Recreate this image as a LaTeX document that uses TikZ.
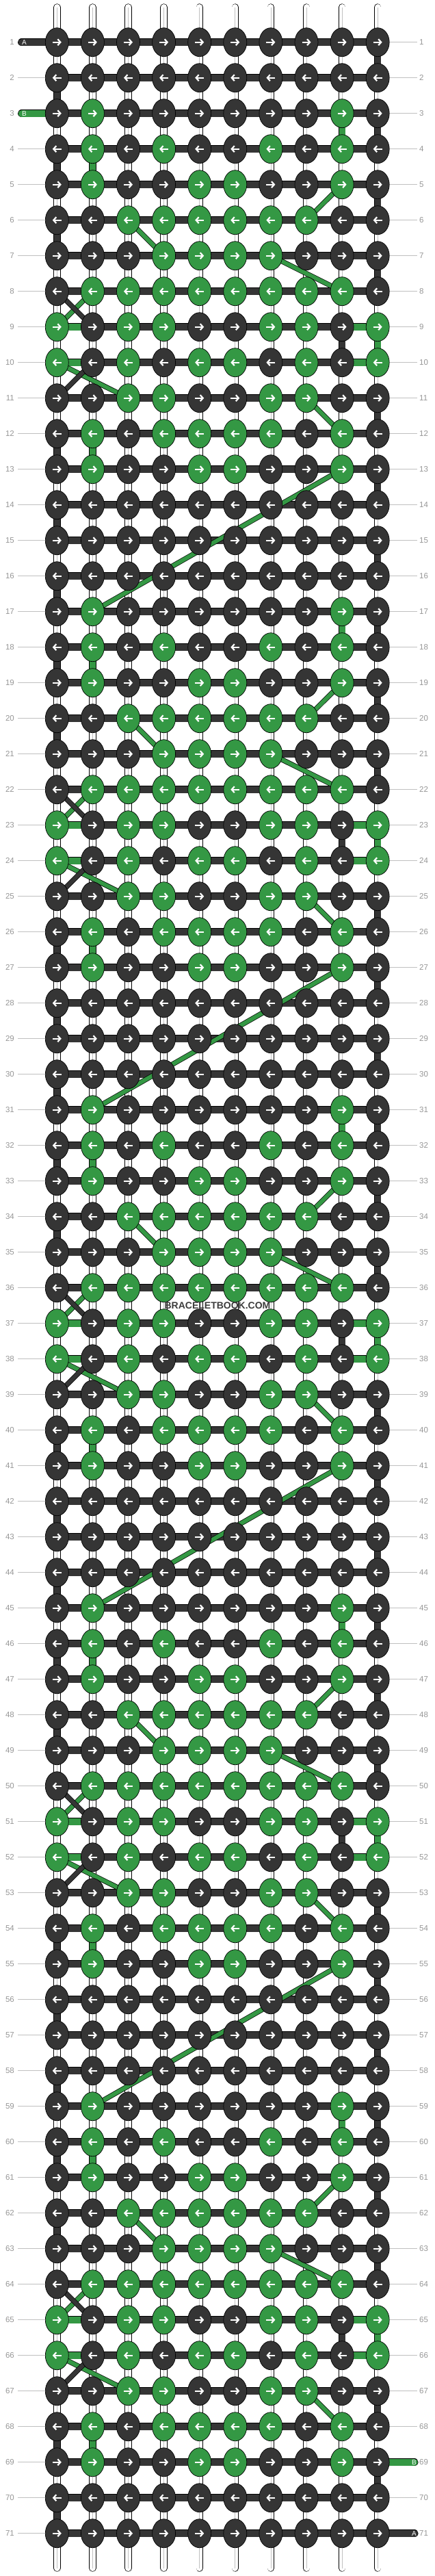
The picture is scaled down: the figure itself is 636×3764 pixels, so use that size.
\documentclass[tikz,border=0pt]{standalone}
\usepackage{fontspec}
\setmainfont{Liberation Sans}
\usepackage{tikz}
\usetikzlibrary{arrows.meta, shapes.geometric, backgrounds}
\definecolor{knotdark}{RGB}{53,53,53}
\definecolor{knotgreen}{RGB}{52,152,68}
\definecolor{labelgray}{RGB}{150,150,150}
\definecolor{rulegray}{RGB}{192,192,192}
\definecolor{markgray}{RGB}{60,60,60}

% 14 rows of 10 knots, repeated down the bracelet (1 = green)
\newcommand{\knotcells}{%
0,0,0,0,0,0,0,0,0,0,%
0,0,0,0,0,0,0,0,0,0,%
0,1,0,0,0,0,0,0,1,0,%
0,1,0,1,0,0,1,0,1,0,%
0,1,0,0,1,1,0,0,1,0,%
0,0,1,1,1,1,1,1,0,0,%
0,0,0,1,1,1,1,0,0,0,%
0,1,1,1,1,1,1,1,1,0,%
1,0,1,1,0,0,1,1,0,1,%
1,0,1,0,1,1,0,1,0,1,%
0,0,1,1,0,0,1,1,0,0,%
0,1,0,1,1,1,1,0,1,0,%
0,1,0,0,1,1,0,0,1,0,%
0,0,0,0,0,0,0,0,0,0}

\begin{document}
\begin{tikzpicture}[x=1pt, y=-1pt,
    knot/.style={ellipse, draw=black, line width=0.7pt, minimum width=34pt, minimum height=42pt, inner sep=0pt},
    arr/.style={white, line width=2.2pt, -{Straight Barb[length=4pt, width=9pt]}},
    tube/.style={draw=black, line width=0.7pt, double=white, double distance=9pt},
    seam/.style={draw=rulegray, line width=0.8pt},
    vseg/.style={draw=black, line width=0.7pt, double distance=9pt},
    bar/.style={draw=black, line width=0.7pt, double distance=10pt},
    diag/.style={draw=black, line width=0.7pt, double distance=6pt},
    rowline/.style={draw=rulegray, line width=1pt},
    lbl/.style={text=labelgray, inner sep=0pt, font=\fontsize{11.5}{12}\selectfont},
    tag/.style={text=white, inner sep=0pt, font=\fontsize{10}{10}\selectfont}
]
    \useasboundingbox (0,0) rectangle (636,3764);

    % Knots
    \foreach \rw in {1,...,71} {
        \pgfmathtruncatemacro{\per}{mod(\rw-1,14)}
        \foreach \cl in {1,...,10} {
            \pgfmathtruncatemacro{\isgreen}{{\knotcells}[\per*10+\cl-1]}
            \ifnum\isgreen=1 \def\kfill{knotgreen}\else\def\kfill{knotdark}\fi
            \node[knot, fill=\kfill] (k-\rw-\cl) at ({83.3+(\cl-1)*52.1}, {61.7+(\rw-1)*52}) {};
            \ifodd\rw
                \draw[arr] ([xshift=-6.5pt]k-\rw-\cl.center) -- ([xshift=6.5pt]k-\rw-\cl.center);
            \else
                \draw[arr] ([xshift=6.5pt]k-\rw-\cl.center) -- ([xshift=-6.5pt]k-\rw-\cl.center);
            \fi
        }
    }

    % Row numbers
    \foreach \rw in {1,...,71} {
        \node[lbl, anchor=east] (ll-\rw) at (21, {61.7+(\rw-1)*52}) {\rw};
        \node[lbl, anchor=west] (rl-\rw) at (613, {61.7+(\rw-1)*52}) {\rw};
    }
    \foreach \rw in {2,4,5,...,71}
        \draw[rowline] ([xshift=5pt]ll-\rw.east) -- (k-\rw-1.west);
    \foreach \rw in {1,2,...,68,70}
        \draw[rowline] (k-\rw-10.east) -- ([xshift=-3pt]rl-\rw.west);

    \begin{pgfonlayer}{background}
        % Threads
        \foreach \cl in {1,...,10} {
            \coordinate (top-\cl) at ({83.3+(\cl-1)*52.1}, 10.5);
            \coordinate (bot-\cl) at ({83.3+(\cl-1)*52.1}, 3752.5);
            \draw[tube, line cap=round] (top-\cl) -- (bot-\cl);
            \draw[seam] (top-\cl) -- (bot-\cl);
        }
        % Coloured thread pieces between rows
        \foreach \base in {0,14,...,56} {
            \foreach \ix/\cl/\tint in {0/10/knotdark, 1/1/knotdark, 2/9/knotgreen, 2/10/knotdark,
                3/1/knotdark, 3/2/knotgreen, 4/10/knotdark, 5/1/knotdark, 6/10/knotdark,
                8/9/knotdark, 8/10/knotgreen, 10/10/knotdark, 11/1/knotdark, 11/2/knotgreen,
                12/10/knotdark, 13/1/knotdark} {
                \pgfmathtruncatemacro{\ra}{\base+\ix+1}
                \pgfmathtruncatemacro{\rb}{\base+\ix+2}
                \draw[vseg, double=\tint] (k-\ra-\cl.center) -- (k-\rb-\cl.center);
            }
        }
        % Rows
        \foreach \rw in {1,...,71}
            \draw[bar, double=knotdark] (k-\rw-1.center) -- (k-\rw-10.center);
        \foreach \rw in {9,10,23,24,37,38,51,52,65,66} {
            \draw[bar, double=knotgreen] (k-\rw-1.center) -- (k-\rw-2.center);
            \draw[bar, double=knotgreen] (k-\rw-9.center) -- (k-\rw-10.center);
        }
        % Loose ends
        \coordinate (endA-in) at (31.7, 61.7);
        \coordinate (endB-in) at (31.7, 165.7);
        \coordinate (endB-out) at (605.8, 3597.7);
        \coordinate (endA-out) at (605.8, 3701.7);
        \draw[bar, double=knotdark, line cap=round] (endA-in) -- (k-1-1.center);
        \draw[bar, double=knotgreen, line cap=round] (endB-in) -- (k-3-1.center);
        \draw[bar, double=knotgreen, line cap=round] (k-69-10.center) -- (endB-out);
        \draw[bar, double=knotdark, line cap=round] (k-71-10.center) -- (endA-out);
        % Crossings
        \foreach \base in {0,14,...,56} {
            \foreach \ix/\ca/\cb/\tint in {4/9/8/knotgreen, 5/3/4/knotgreen, 6/7/9/knotgreen,
                7/2/1/knotgreen, 7/1/2/knotdark, 9/1/3/knotgreen, 9/2/1/knotdark, 10/8/9/knotgreen} {
                \pgfmathtruncatemacro{\ra}{\base+\ix+1}
                \pgfmathtruncatemacro{\rb}{\base+\ix+2}
                \draw[diag, double=\tint] (k-\ra-\ca.center) -- (k-\rb-\cb.center);
            }
        }
        \foreach \base in {0,14,28,42} {
            \pgfmathtruncatemacro{\ra}{\base+13}
            \pgfmathtruncatemacro{\rb}{\base+17}
            \draw[diag, double=knotgreen] (k-\ra-9.center) -- (k-\rb-2.center);
        }
    \end{pgfonlayer}

    % Thread names
    \node[tag] (tagA-in) at (35.5, 61.7) {A};
    \node[tag] (tagB-in) at (35.5, 165.7) {B};
    \node[tag] (tagB-out) at (605.5, 3597.7) {B};
    \node[tag] (tagA-out) at (605.5, 3701.7) {A};

    \node[text=markgray, font=\bfseries\fontsize{14}{14}\selectfont] (mark) at (318, 1908) {BRACELETBOOK.COM};
\end{tikzpicture}
\end{document}
